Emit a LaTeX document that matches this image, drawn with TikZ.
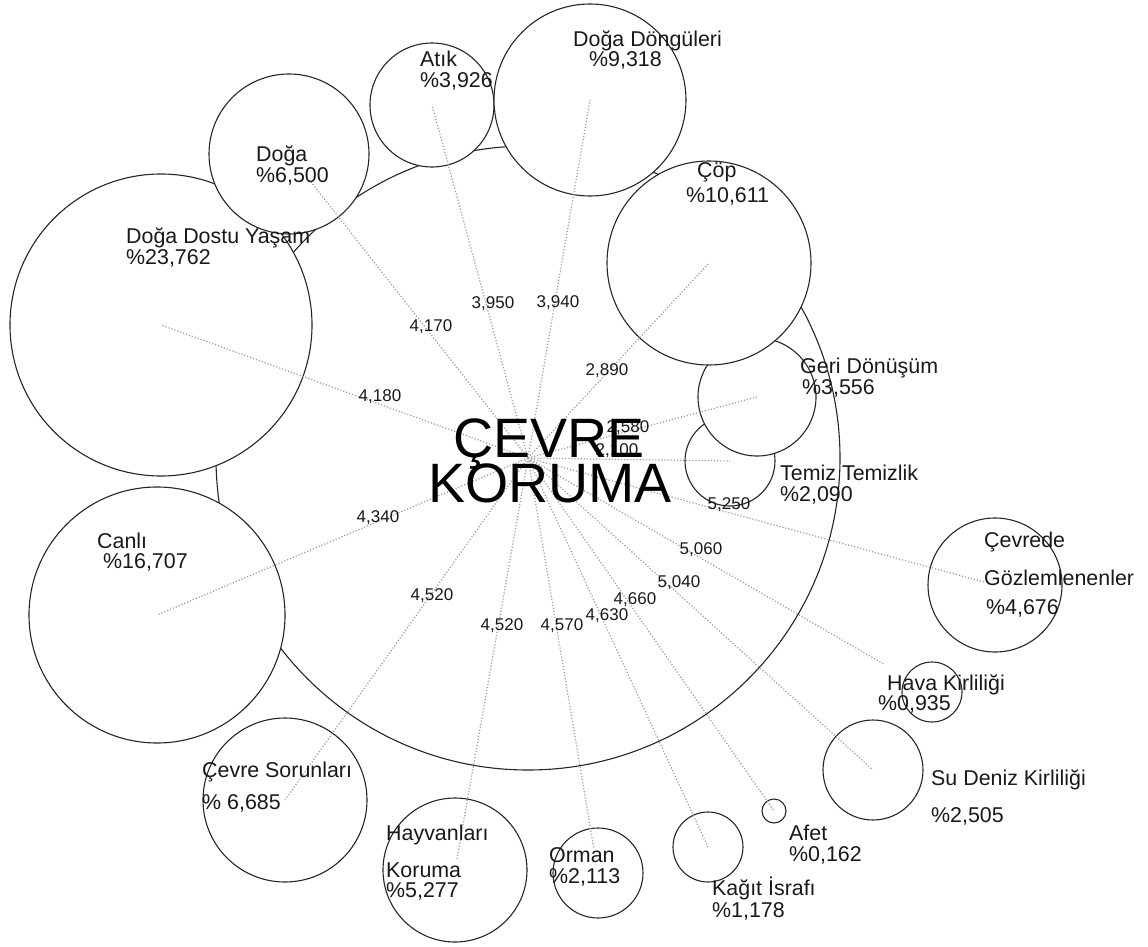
\documentclass[tikz,border=0pt]{standalone}
\usepackage{fontspec}
\setmainfont{Liberation Sans}
\begin{document}
\begin{tikzpicture}[x=1pt,y=-1pt,
  ring/.style={circle,draw=black!85,line width=1.1pt,fill=white,inner sep=0pt,outer sep=0pt},
  link/.style={draw=black!38,line width=1.2pt,dash pattern=on 1.2pt off 1.9pt},
  lbl/.style={anchor=base west,inner sep=0pt,text=black!90,font=\fontsize{21.4}{21.4}\selectfont},
  val/.style={anchor=center,inner sep=0pt,text=black!90,font=\fontsize{17}{17}\selectfont},
  title/.style={anchor=base,inner sep=0pt,text=black,font=\fontsize{55.5}{55.5}\selectfont}]
\useasboundingbox (0,0) rectangle (1148,947);

% central disc
\node[ring,minimum size=624pt] (hub) at (528,458) {};

% topic discs (later ones lie on top)
\node[ring,minimum size=302pt] (ddy)     at (161,325) {};
\node[ring,minimum size=160pt] (doga)    at (289,154) {};
\node[ring,minimum size=256pt] (canli)   at (157,615) {};
\node[ring,minimum size=124pt] (atik)    at (432,105) {};
\node[ring,minimum size=192pt] (dongu)   at (590,100) {};
\node[ring,minimum size=90pt]  (temiz)   at (730,461) {};
\node[ring,minimum size=118pt] (geri)    at (757,397) {};
\node[ring,minimum size=204pt] (cop)     at (709,263) {};
\node[ring,minimum size=134pt] (cevrede) at (995,585) {};
\node[ring,minimum size=60pt]  (hava)    at (932,692) {};
\node[ring,minimum size=100pt] (su)      at (873,770) {};
\node[ring,minimum size=24pt]  (afet)    at (774,811) {};
\node[ring,minimum size=70pt]  (kagit)   at (708,847) {};
\node[ring,minimum size=90pt]  (orman)   at (598,873) {};
\node[ring,minimum size=144pt] (hayvan)  at (455,870) {};
\node[ring,minimum size=164pt] (sorun)   at (285,800) {};

% spokes from the hub to each disc
\draw[link] (hub.center) -- (ddy.center);
\draw[link,shorten >=33pt] (hub.center) -- (doga.center);
\draw[link] (hub.center) -- (canli.center);
\draw[link] (hub.center) -- (atik.center);
\draw[link] (hub.center) -- (dongu.center);
\draw[link] (hub.center) -- (temiz.center);
\draw[link] (hub.center) -- (geri.center);
\draw[link] (hub.center) -- (cop.center);
\draw[link,shorten >=11pt] (hub.center) -- (cevrede.center);
\draw[link,shorten >=56pt] (hub.center) -- (hava.center);
\draw[link] (hub.center) -- (su.center);
\draw[link] (hub.center) -- (afet.center);
\draw[link] (hub.center) -- (kagit.center);
\draw[link,shorten >=26pt] (hub.center) -- (orman.center);
\draw[link,shorten >=10pt] (hub.center) -- (hayvan.center);
\draw[link] (hub.center) -- (sorun.center);

% spoke values
\node[val] (v-ddy)     at (380,397) {4,180};
\node[val] (v-doga)    at (431,327) {4,170};
\node[val] (v-atik)    at (493,304) {3,950};
\node[val] (v-dongu)   at (558,303) {3,940};
\node[val] (v-cop)     at (607,371) {2,890};
\node[val] (v-geri)    at (628,428) {2,580};
\node[val] (v-temiz)   at (617,451) {2,100};
\node[val] (v-cevrede) at (729,505) {5,250};
\node[val] (v-hava)    at (701,550) {5,060};
\node[val] (v-su)      at (679,583) {5,040};
\node[val] (v-afet)    at (635,600) {4,660};
\node[val] (v-kagit)   at (607,616) {4,630};
\node[val] (v-orman)   at (562,626) {4,570};
\node[val] (v-hayvan)  at (502,626) {4,520};
\node[val] (v-sorun)   at (432,596) {4,520};
\node[val] (v-canli)   at (378,518) {4,340};

% topic labels
\node[lbl] (l-ddy-a) at (126,243) {Doğa Dostu Yaşam};
\node[lbl] (l-ddy-b) at (126,264) {\%23,762};
\node[lbl] (l-doga-a) at (256,161) {Doğa};
\node[lbl] (l-doga-b) at (256,182) {\%6,500};
\node[lbl] (l-atik-a) at (420,67) {Atık};
\node[lbl] (l-atik-b) at (420,88) {\%3,926};
\node[lbl] (l-dongu-a) at (573,47) {Doğa Döngüleri};
\node[lbl] (l-dongu-b) at (589,67) {\%9,318};
\node[lbl] (l-cop-a) at (697,177) {Çöp};
\node[lbl] (l-cop-b) at (686,202) {\%10,611};
\node[lbl] (l-geri-a) at (800,373) {Geri Dönüşüm};
\node[lbl] (l-geri-b) at (802,394) {\%3,556};
\node[lbl] (l-temiz-a) at (780,480) {Temiz Temizlik};
\node[lbl] (l-temiz-b) at (780,501) {\%2,090};
\node[lbl] (l-cevrede-a) at (984,547) {Çevrede};
\node[lbl] (l-cevrede-b) at (984,585) {Gözlemlenenler};
\node[lbl] (l-cevrede-c) at (986,614) {\%4,676};
\node[lbl] (l-hava-a) at (887,690) {Hava Kirliliği};
\node[lbl] (l-hava-b) at (878,710) {\%0,935};
\node[lbl] (l-su-a) at (931,785) {Su Deniz Kirliliği};
\node[lbl] (l-su-b) at (931,822) {\%2,505};
\node[lbl] (l-afet-a) at (789,840) {Afet};
\node[lbl] (l-afet-b) at (789,861) {\%0,162};
\node[lbl] (l-kagit-a) at (712,895) {Kağıt İsrafı};
\node[lbl] (l-kagit-b) at (712,917) {\%1,178};
\node[lbl] (l-orman-a) at (549,862) {Orman};
\node[lbl] (l-orman-b) at (549,883) {\%2,113};
\node[lbl] (l-hayvan-a) at (386,840) {Hayvanları};
\node[lbl] (l-hayvan-b) at (386,877) {Koruma};
\node[lbl] (l-hayvan-c) at (386,897) {\%5,277};
\node[lbl] (l-sorun-a) at (202,777) {Çevre Sorunları};
\node[lbl] (l-sorun-b) at (202,809) {\% 6,685};
\node[lbl] (l-canli-a) at (97,548) {Canlı};
\node[lbl] (l-canli-b) at (103,568) {\%16,707};

% central title
\node[title] (t1) at (549,457) {ÇEVRE};
\node[title] (t2) at (550,502) {KORUMA};
\end{tikzpicture}
\end{document}
